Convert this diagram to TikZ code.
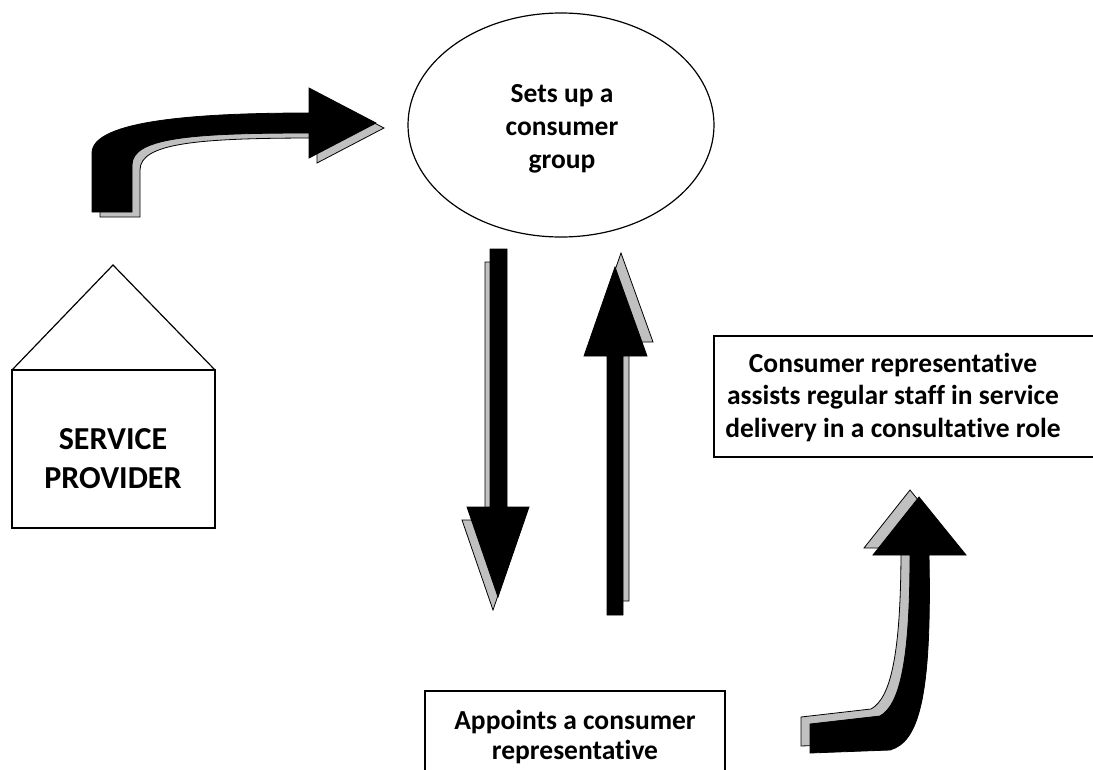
\documentclass[tikz,border=0pt]{standalone}
\usepackage{fontspec}
\setmainfont{Carlito}[Ligatures={NoCommon}]
\usetikzlibrary{shapes.geometric}
\definecolor{shadowgray}{RGB}{192,192,192}
\tikzset{
  blockarrow/.style={fill=black, draw=black, line width=0.8pt, line join=miter},
  arrowshadow/.style={fill=shadowgray, draw=black, line width=0.8pt, line join=miter},
  outline/.style={draw=black, line width=1.2pt},
  boxtext/.style={font=\fontsize{27.5}{32.5}\selectfont\bfseries, align=center, inner sep=0pt, anchor=base},
  bigtext/.style={font=\fontsize{32}{39}\selectfont\bfseries, align=center, inner sep=0pt, anchor=base}
}
% block arrows, drawn once as a grey drop shadow and once in black
\newcommand\ArrowBent[1]{\path[#1] (92,212) -- (92,153) .. controls (92,120) and (200,113) .. (309,113) -- (309,88) -- (376,123) -- (309,158) -- (309,133) .. controls (190,133) and (132,138) .. (132,165) -- (132,212) -- cycle;}
\newcommand\ArrowDown[1]{\path[#1] (490,249) -- (507,249) -- (507,507) -- (529,507) -- (498,597) -- (467,507) -- (490,507) -- cycle;}
\newcommand\ArrowUp[1]{\path[#1] (607,615) -- (623,615) -- (623,356) -- (647,356) -- (615,267) -- (584,356) -- (607,356) -- cycle;}
\newcommand\ArrowHook[1]{\path[#1] (810,753) -- (810,724) -- (880,716) .. controls (900,705) and (910,660) .. (910,555) -- (873,555) -- (919,497) -- (966,555) -- (929,555) .. controls (932,700) and (918,742) .. (890,750) -- cycle;}
\begin{document}
\begin{tikzpicture}[x=1pt, y=-1pt]
  \clip (0,0) rectangle (1093,769);
  \fill[white] (0,0) rectangle (1093,769);

  % service provider house
  \draw[outline, line join=miter] (12,370) -- (113,265) -- (215,370);
  \draw[outline] (12,370) rectangle (215,528);
  \node[bigtext] (provider) at (113,488) {SERVICE\\PROVIDER};

  % consumer group
  \node[ellipse, outline, minimum width=306pt, minimum height=224pt, inner sep=0pt] (groupshape) at (561,125) {};
  \node[boxtext, font=\fontsize{27.5}{33}\selectfont\bfseries] (group) at (562,168) {Sets up a\\consumer\\group};

  % consultative role
  \draw[outline] (714,336) rectangle (1100,457);
  \node[boxtext] (role) at (893,437) {Consumer representative\\assists regular staff in service\\delivery in a consultative role};

  % appointment
  \draw[outline] (425,691) rectangle (725,790);
  \node[boxtext, font=\fontsize{27.5}{30}\selectfont\bfseries] (appoint) at (575,759) {Appoints a consumer\\representative};

  % arrows
  \ArrowBent{arrowshadow, shift={(8,5)}}
  \ArrowBent{blockarrow}
  \ArrowDown{arrowshadow, shift={(-5,13)}}
  \ArrowDown{blockarrow}
  \ArrowUp{arrowshadow, shift={(6,-14)}}
  \ArrowUp{blockarrow}
  \ArrowHook{arrowshadow, shift={(-9,-7)}}
  \ArrowHook{blockarrow}
\end{tikzpicture}
\end{document}
